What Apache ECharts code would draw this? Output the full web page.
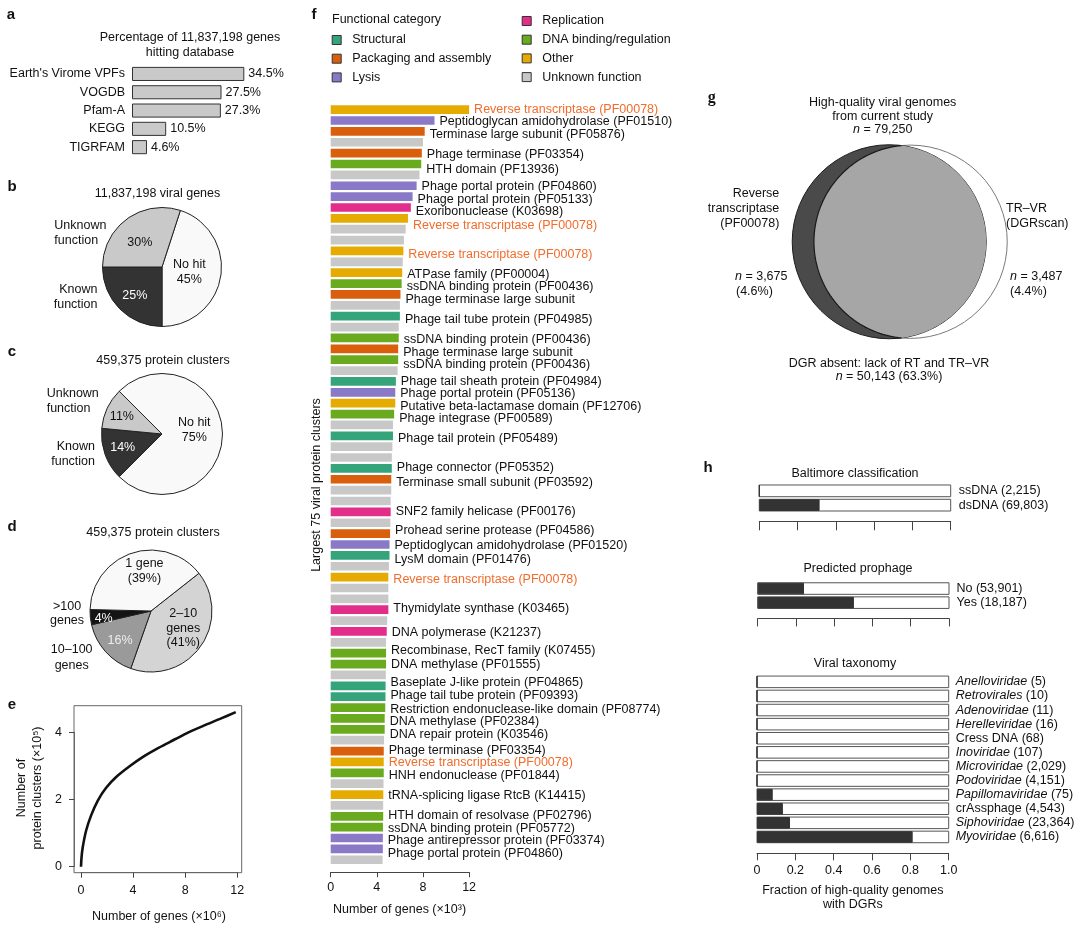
<!DOCTYPE html>
<html><head><meta charset="utf-8">
<script src="https://cdn.jsdelivr.net/npm/echarts@6/dist/echarts.min.js"></script>
<style>html,body{margin:0;padding:0;background:#fff}#c{width:1080px;height:929px}</style>
</head><body><div id="c"></div>
<script>
// ================= DATA =================
// panel a
const dbNames = ["Earth's Virome VPFs", "VOGDB", "Pfam-A", "KEGG", "TIGRFAM"];
const dbPercent = [34.5, 27.5, 27.3, 10.5, 4.6];
// panel b
const genePieNames = ['No hit', 'Known function', 'Unknown function'];
const genePieValues = [45, 25, 30];
// panel c
const clusterPieNames = ['No hit', 'Known function', 'Unknown function'];
const clusterPieValues = [75, 14, 11];
// panel d
const sizePieNames = ['2–10 genes', '10–100 genes', '>100 genes', '1 gene'];
const sizePieValues = [41, 16, 4, 39];
// panel e (rarefaction curve)
const rarefGenes = [0, 0.04, 0.13, 0.39, 0.77, 1.29, 1.93, 2.70, 3.73, 4.76, 5.78, 6.81, 8.10, 9.38, 10.67, 11.88];
const rarefClusters = [0, 0.27, 0.57, 1.07, 1.52, 1.97, 2.35, 2.67, 2.99, 3.27, 3.50, 3.71, 3.97, 4.19, 4.40, 4.60];
// panel f
const funcCategories = ['Structural', 'Packaging and assembly', 'Lysis', 'Replication', 'DNA binding/regulation', 'Other', 'Unknown function'];
const funcCodes = ['S', 'P', 'L', 'R', 'D', 'O', 'U'];
const fCats = ['O','L','P','U','P','D','U','L','L','R',
               'O','U','U','O','U','O','D','P','U','S',
               'U','D','P','D','U','S','L','O','D','U',
               'S','U','U','S','P','U','U','R','U','P',
               'L','S','U','O','U','U','R','U','R','U',
               'D','D','U','S','S','D','D','D','U','P',
               'O','D','U','O','U','D','D','L','L','U'];
const fValues = [12.1, 9.0, 8.15, 8.0, 7.9, 7.85, 7.7, 7.45, 7.1, 6.95,
                 6.7, 6.5, 6.35, 6.3, 6.25, 6.2, 6.15, 6.05, 6.0, 6.0,
                 5.9, 5.9, 5.85, 5.85, 5.8, 5.65, 5.6, 5.6, 5.5, 5.4,
                 5.4, 5.35, 5.3, 5.3, 5.25, 5.25, 5.2, 5.2, 5.18, 5.15,
                 5.1, 5.1, 5.05, 5.0, 5.0, 5.0, 5.0, 4.9, 4.86, 4.8,
                 4.8, 4.8, 4.78, 4.76, 4.75, 4.73, 4.68, 4.68, 4.63, 4.6,
                 4.6, 4.6, 4.58, 4.56, 4.55, 4.55, 4.53, 4.52, 4.52, 4.5];
const fLabels = ['Reverse transcriptase (PF00078)', 'Peptidoglycan amidohydrolase (PF01510)', 'Terminase large subunit (PF05876)', '', 'Phage terminase (PF03354)', 'HTH domain (PF13936)', '', 'Phage portal protein (PF04860)', 'Phage portal protein (PF05133)', 'Exoribonuclease (K03698)',
  'Reverse transcriptase (PF00078)', '', '', 'Reverse transcriptase (PF00078)', '', 'ATPase family (PF00004)', 'ssDNA binding protein (PF00436)', 'Phage terminase large subunit', '', 'Phage tail tube protein (PF04985)',
  '', 'ssDNA binding protein (PF00436)', 'Phage terminase large subunit', 'ssDNA binding protein (PF00436)', '', 'Phage tail sheath protein (PF04984)', 'Phage portal protein (PF05136)', 'Putative beta-lactamase domain (PF12706)', 'Phage integrase (PF00589)', '',
  'Phage tail protein (PF05489)', '', '', 'Phage connector (PF05352)', 'Terminase small subunit (PF03592)', '', '', 'SNF2 family helicase (PF00176)', '', 'Prohead serine protease (PF04586)',
  'Peptidoglycan amidohydrolase (PF01520)', 'LysM domain (PF01476)', '', 'Reverse transcriptase (PF00078)', '', '', 'Thymidylate synthase (K03465)', '', 'DNA polymerase (K21237)', '',
  'Recombinase, RecT family (K07455)', 'DNA methylase (PF01555)', '', 'Baseplate J-like protein (PF04865)', 'Phage tail tube protein (PF09393)', 'Restriction endonuclease-like domain (PF08774)', 'DNA methylase (PF02384)', 'DNA repair protein (K03546)', '', 'Phage terminase (PF03354)',
  'Reverse transcriptase (PF00078)', 'HNH endonuclease (PF01844)', '', 'tRNA-splicing ligase RtcB (K14415)', '', 'HTH domain of resolvase (PF02796)', 'ssDNA binding protein (PF05772)', 'Phage antirepressor protein (PF03374)', 'Phage portal protein (PF04860)', ''];
// panel g (Venn counts)
const vennLabels = ['RT only', 'DGR present', 'TR–VR only', 'DGR absent'];
const vennCounts = [3675, 21945, 3487, 50143];
// panel h
const baltNames = ['ssDNA (2,215)', 'dsDNA (69,803)'];
const baltFrac = [0, 0.315];
const prophNames = ['No (53,901)', 'Yes (18,187)'];
const prophFrac = [0.242, 0.503];
const taxNames = ['Anelloviridae', 'Retrovirales', 'Adenoviridae', 'Herelleviridae', 'Cress DNA', 'Inoviridae', 'Microviridae', 'Podoviridae', 'Papillomaviridae', 'crAssphage', 'Siphoviridae', 'Myoviridae'];
const taxCounts = ['5', '10', '11', '16', '68', '107', '2,029', '4,151', '75', '4,543', '23,364', '6,616'];
const taxItalic = [1, 1, 1, 1, 0, 1, 1, 1, 1, 0, 1, 1];
const taxFrac = [0, 0, 0, 0, 0, 0, 0, 0, 0.082, 0.135, 0.172, 0.812];

// ================= STYLE / BUILD =================
const FONT = '"Liberation Sans", Arial, Helvetica, sans-serif';
const TXT = '#111';
const FS = 12.5;
const funcColors = ['#36a47b', '#d95f0d', '#8a79c6', '#e22d8b', '#6aaa1e', '#e6ab03', '#c8c8c8'];
// vertical nudges of panel-f labels (layout only, by bar number)
const fLabelShift = {1:0, 2:1, 3:3.5, 5:1, 6:6, 8:1, 9:2.7, 10:4.5, 11:7, 14:3.3, 16:2.3, 17:3, 18:5, 20:3.8,
  22:1.4, 23:3.5, 24:5.3, 26:0, 27:1, 28:3.5, 29:5, 31:3.2, 34:-1, 35:3.4, 38:0, 40:-2.7, 41:1, 42:4.5, 44:2.8, 47:-1,
  49:0.7, 51:-2.3, 52:0.8, 54:-3.3, 55:-1, 56:1.5, 57:3, 58:5.5, 60:-0.6, 61:1.1, 62:3, 64:1, 66:-0.5, 67:1.6, 68:2.7, 69:5};

function txt(x, y, text, o) {
  o = o || {};
  const st = {
    text: text, fill: o.color || TXT,
    fontSize: o.size || FS, fontFamily: o.family || FONT,
    fontWeight: o.weight || 'normal', fontStyle: o.style || 'normal',
    align: o.align || 'center', verticalAlign: 'middle',
    textAlign: o.align || 'center', textVerticalAlign: 'middle',
    lineHeight: o.lineHeight || 15
  };
  if (o.rich) st.rich = o.rich;
  return { type: 'text', x: x, y: y, rotation: o.rotation || 0, silent: true, style: st };
}
const ITAL = { i: { fontStyle: 'italic', fontSize: FS, fontFamily: FONT, fill: TXT } };
const bold = { weight: 'bold', size: 15 };

const grids = [
  { left: 132, top: 64.8, width: 130.2, height: 91.5 },                        // 0 a
  { left: 74, top: 705.7, width: 167.7, height: 167, show: true, borderColor: '#666', borderWidth: 1, backgroundColor: 'rgba(0,0,0,0)' }, // 1 e box
  { left: 81, top: 732.3, width: 156.3, height: 134.4 },                       // 2 e plot
  { left: 330.7, top: 104.2, width: 138.4, height: 761 },                      // 3 f
  { left: 759.3, top: 483.7, width: 191.4, height: 28.6 },                     // 4 h balt
  { left: 757.7, top: 581.5, width: 191.3, height: 28.2 },                     // 5 h prophage
  { left: 757, top: 674.8, width: 191.7, height: 169.2 },                      // 6 h taxonomy
  { left: 771, top: 123.6, width: 257.8, height: 236.3 }                       // 7 g venn
];

const axLine = { show: true, onZero: false, lineStyle: { color: '#444', width: 1 } };
const eLine = { show: true, onZero: false, lineStyle: { color: '#666', width: 1 } };
const axLab = { fontSize: FS, color: TXT, fontFamily: FONT };

const xAxes = [
  { gridIndex: 0, type: 'value', min: 0, max: 40, show: false },
  { gridIndex: 1, type: 'value', show: false },
  { gridIndex: 2, type: 'value', min: 0, max: 12, interval: 4, offset: 6, axisLine: eLine,
    axisTick: { show: true, length: 5, lineStyle: { color: '#444' } }, axisLabel: Object.assign({ margin: 11 }, axLab), splitLine: { show: false } },
  { gridIndex: 3, type: 'value', min: 0, max: 12, interval: 4, offset: 7, axisLine: axLine,
    axisTick: { show: true, length: 5, lineStyle: { color: '#444' } }, axisLabel: Object.assign({ margin: 9 }, axLab), splitLine: { show: false } },
  { gridIndex: 4, type: 'value', min: 0, max: 1, interval: 0.2, offset: 9, axisLine: axLine,
    axisTick: { show: true, length: 9, lineStyle: { color: '#444' } }, axisLabel: { show: false }, splitLine: { show: false } },
  { gridIndex: 5, type: 'value', min: 0, max: 1, interval: 0.2, offset: 8.7, axisLine: axLine,
    axisTick: { show: true, length: 8, lineStyle: { color: '#444' } }, axisLabel: { show: false }, splitLine: { show: false } },
  { gridIndex: 6, type: 'value', min: 0, max: 1, interval: 0.2, offset: 9.3, axisLine: axLine,
    axisTick: { show: true, length: 7, lineStyle: { color: '#444' } },
    axisLabel: Object.assign({ margin: 11, formatter: v => v === 0 ? '0' : v.toFixed(1) }, axLab), splitLine: { show: false } },
  { gridIndex: 7, type: 'value', min: -120, max: 120, show: false }
];
const hideCat = { axisLine: { show: false }, axisTick: { show: false } };
const yAxes = [
  Object.assign({ gridIndex: 0, type: 'category', data: dbNames, inverse: true, axisLabel: Object.assign({ margin: 7, interval: 0 }, axLab) }, hideCat),
  { gridIndex: 1, type: 'value', show: false },
  { gridIndex: 2, type: 'value', min: 0, max: 4, interval: 2, offset: 7, axisLine: eLine,
    axisTick: { show: true, length: 5, lineStyle: { color: '#444' } }, axisLabel: Object.assign({ margin: 12 }, axLab), splitLine: { show: false } },
  Object.assign({ gridIndex: 3, type: 'category', data: fValues.map((v, i) => String(i + 1)), inverse: true, axisLabel: { show: false } }, hideCat),
  Object.assign({ gridIndex: 4, type: 'category', data: baltNames, inverse: true, position: 'right', axisLabel: Object.assign({ margin: 8, interval: 0 }, axLab) }, hideCat),
  Object.assign({ gridIndex: 5, type: 'category', data: prophNames, inverse: true, position: 'right', axisLabel: Object.assign({ margin: 7.5, interval: 0 }, axLab) }, hideCat),
  Object.assign({ gridIndex: 6, type: 'category', data: taxNames, inverse: true, position: 'right',
    axisLabel: Object.assign({ margin: 7, interval: 0, rich: ITAL,
      formatter: (val, idx) => taxItalic[idx] ? '{i|' + taxNames[idx] + '} (' + taxCounts[idx] + ')' : taxNames[idx] + ' (' + taxCounts[idx] + ')' }, axLab) }, hideCat),
  { gridIndex: 7, type: 'value', min: -110, max: 110, show: false }
];

const series = [];
// a
series.push({ type: 'bar', xAxisIndex: 0, yAxisIndex: 0, data: dbPercent, barCategoryGap: '23%', silent: true,
  itemStyle: { color: '#c9c9c9', borderColor: '#333', borderWidth: 1 },
  label: { show: true, position: 'right', distance: 4, formatter: p => p.value + '%', fontSize: FS, color: TXT, fontFamily: FONT } });

// pies
function pie(names, values, colors, center, radius, startAngle, fmt, lblColors, offsets) {
  return { type: 'pie', center: center, radius: radius, startAngle: startAngle, clockwise: true, silent: true,
    avoidLabelOverlap: false, labelLine: { show: false },
    itemStyle: { borderColor: '#222', borderWidth: 1 },
    label: { show: true, position: 'inside', fontSize: FS, lineHeight: 14.5, fontFamily: FONT, formatter: fmt },
    data: names.map((n, i) => ({ name: n, value: values[i], itemStyle: { color: colors[i] },
      label: { color: lblColors[i], offset: offsets[i] } })) };
}
const fmtBC = p => p.name === 'No hit' ? 'No hit\n' + p.value + '%' : p.value + '%';
series.push(pie(genePieNames, genePieValues, ['#f9f9f9', '#333333', '#c9c9c9'], [162, 267], 59.5, 72, fmtBC,
  [TXT, '#fff', TXT], [[-5, 0], [-4, 5], [-3, 2]]));
series.push(pie(clusterPieNames, clusterPieValues, ['#f9f9f9', '#333333', '#c9c9c9'], [162, 434], 60.5, 135, fmtBC,
  [TXT, '#fff', TXT], [[-1, -4], [-8, 2], [-10, -3]]));
const fmtD = p => {
  if (p.name === '1 gene') return '1 gene\n(' + p.value + '%)';
  if (p.name === '2–10 genes') return '2–10\ngenes\n(' + p.value + '%)';
  return p.value + '%';
};
series.push(pie(sizePieNames, sizePieValues, ['#d4d4d4', '#9a9a9a', '#141414', '#f9f9f9'], [151, 611], 61, 38.2, fmtD,
  [TXT, '#eee', '#fff', TXT], [[5, -2], [-6, 7], [-14, 4], [4, -8]]));

// e
series.push({ type: 'line', xAxisIndex: 2, yAxisIndex: 2, data: rarefGenes.map((x, i) => [x, rarefClusters[i]]),
  smooth: 0.3, showSymbol: false, clip: false, silent: true,
  lineStyle: { color: '#111', width: 2.6 } });

// f
funcCategories.forEach((name, ci) => {
  series.push({ type: 'bar', name: name, stack: 'f', xAxisIndex: 3, yAxisIndex: 3, barCategoryGap: '20%', silent: true,
    itemStyle: { color: funcColors[ci] },
    label: { show: false, position: 'right', distance: 5, fontSize: FS, fontFamily: FONT, color: TXT },
    data: fValues.map((v, i) => fCats[i] === funcCodes[ci]
      ? { value: v, label: { show: fLabels[i] !== '', formatter: fLabels[i], offset: [0, fLabelShift[i + 1] || 0],
          color: fLabels[i].indexOf('Reverse transcriptase') === 0 ? '#f26c2c' : TXT } }
      : '-') });
});

// h
function hBar(ax, vals) {
  return { type: 'bar', xAxisIndex: ax, yAxisIndex: ax, data: vals, barCategoryGap: '18%', silent: true,
    showBackground: true, backgroundStyle: { color: '#fff', borderColor: '#555', borderWidth: 1 },
    itemStyle: { color: '#333', borderColor: '#333', borderWidth: 1 } };
}
series.push(hBar(4, baltFrac));
series.push(hBar(5, prophFrac));
series.push(hBar(6, taxFrac));

// g venn (area proportional, geometry from counts)
const areaA = vennCounts[0] + vennCounts[1];
const areaB = vennCounts[1] + vennCounts[2];
const rA = Math.sqrt(areaA / Math.PI), rB = Math.sqrt(areaB / Math.PI);
function lensArea(r1, r2, d) {
  const a1 = Math.acos((d * d + r1 * r1 - r2 * r2) / (2 * d * r1));
  const a2 = Math.acos((d * d + r2 * r2 - r1 * r1) / (2 * d * r2));
  const k = Math.sqrt(Math.max(0, (-d + r1 + r2) * (d + r1 - r2) * (d - r1 + r2) * (d + r1 + r2)));
  return r1 * r1 * a1 + r2 * r2 * a2 - 0.5 * k;
}
let lo = Math.abs(rA - rB) + 1e-6, hi = rA + rB - 1e-6;
for (let k = 0; k < 80; k++) { const mid = (lo + hi) / 2; if (lensArea(rA, rB, mid) > vennCounts[1]) lo = mid; else hi = mid; }
const vd = (lo + hi) / 2;
series.push({ type: 'custom', xAxisIndex: 7, yAxisIndex: 7, silent: true, data: [[0, 0]],
  renderItem: function (params, api) {
    const xa = -vd / 2, xb = vd / 2;
    const cA = api.coord([xa, 0]), cB = api.coord([xb, 0]);
    const pA = api.size([rA, 0])[0], pB = api.size([rB, 0])[0];
    const x0 = (vd * vd + rA * rA - rB * rB) / (2 * vd);
    const h = Math.sqrt(rA * rA - x0 * x0);
    const phiA = Math.atan2(h, x0);
    const phiB = Math.atan2(h, x0 - vd);
    const lens = [], arcB = [];
    const N = 90;
    for (let i = 0; i <= N; i++) {
      const t = phiB + (2 * Math.PI - 2 * phiB) * i / N;
      const p = api.coord([xb + rB * Math.cos(t), rB * Math.sin(t)]);
      lens.push(p); arcB.push(p);
    }
    for (let i = 0; i <= N; i++) {
      const t = -phiA + 2 * phiA * i / N;
      lens.push(api.coord([xa + rA * Math.cos(t), rA * Math.sin(t)]));
    }
    return { type: 'group', children: [
      { type: 'circle', shape: { cx: cB[0], cy: cB[1], r: pB }, style: { fill: '#fff', stroke: '#7a7a7a', lineWidth: 1 } },
      { type: 'circle', shape: { cx: cA[0], cy: cA[1], r: pA }, style: { fill: '#4a4a4a', stroke: '#1e1e1e', lineWidth: 1 } },
      { type: 'polygon', shape: { points: lens }, style: { fill: '#a6a6a6', stroke: null } },
      { type: 'polyline', shape: { points: arcB }, style: { fill: null, stroke: '#1a1a1a', lineWidth: 1.2 } }
    ] };
  } });

const legendBase = { orient: 'vertical', icon: 'rect', itemWidth: 9, itemHeight: 9, itemGap: 3.7, padding: 0, selectedMode: false,
  itemStyle: { borderColor: '#333', borderWidth: 1 },
  textStyle: { fontSize: FS, color: TXT, fontFamily: FONT, lineHeight: 15, padding: [0, 0, 0, 6] } };

const graphics = [
  txt(11, 15, 'a', bold),
  txt(190, 38, 'Percentage of 11,837,198 genes'),
  txt(190, 53, 'hitting database'),
  txt(12, 187, 'b', bold),
  txt(157.5, 193.3, '11,837,198 viral genes'),
  txt(54.3, 225.7, 'Unknown', { align: 'left' }), txt(54.3, 240.3, 'function', { align: 'left' }),
  txt(97.5, 290, 'Known', { align: 'right' }), txt(97.5, 305, 'function', { align: 'right' }),
  txt(12, 352, 'c', bold),
  txt(163, 361, '459,375 protein clusters'),
  txt(46.7, 393.3, 'Unknown', { align: 'left' }), txt(46.7, 408.3, 'function', { align: 'left' }),
  txt(95, 446.7, 'Known', { align: 'right' }), txt(95, 461.7, 'function', { align: 'right' }),
  txt(12, 527, 'd', bold),
  txt(153, 532.3, '459,375 protein clusters'),
  txt(67, 606.7, '>100'), txt(67, 620.7, 'genes'),
  txt(71.7, 650, '10–100'), txt(71.7, 665.7, 'genes'),
  txt(12, 705, 'e', bold),
  txt(29.5, 788, 'Number of\nprotein clusters (×10⁵)', { rotation: Math.PI / 2, lineHeight: 15.6 }),
  txt(159, 916.7, 'Number of genes (×10⁶)'),
  txt(314, 15, 'f', bold),
  txt(332, 20, 'Functional category', { align: 'left' }),
  txt(317, 485, 'Largest 75 viral protein clusters', { rotation: Math.PI / 2 }),
  txt(333, 910, 'Number of genes (×10³)', { align: 'left' }),
  txt(711.7, 98, 'g', { weight: 'bold', size: 16, family: '"Liberation Serif", "Times New Roman", serif' }),
  txt(882.7, 102.7, 'High-quality viral genomes'),
  txt(882.7, 116.3, 'from current study'),
  txt(882.7, 130, '{i|n} = 79,250', { rich: ITAL }),
  txt(901, 187.5, 'DGR'),
  txt(901, 202.7, 'present'),
  txt(779.3, 193.3, 'Reverse', { align: 'right' }),
  txt(779.3, 208.3, 'transcriptase', { align: 'right' }),
  txt(779.3, 223.3, '(PF00078)', { align: 'right' }),
  txt(1006, 208.3, 'TR–VR', { align: 'left' }),
  txt(1006, 223.3, '(DGRscan)', { align: 'left' }),
  txt(735, 276.7, '{i|n} = 3,675', { align: 'left', rich: ITAL }),
  txt(736, 291.7, '(4.6%)', { align: 'left' }),
  txt(901, 277.3, '{i|n} = 21,945', { rich: ITAL }),
  txt(901, 292.7, '(27.7%)'),
  txt(1010, 276.7, '{i|n} = 3,487', { align: 'left', rich: ITAL }),
  txt(1010, 291.7, '(4.4%)', { align: 'left' }),
  txt(889, 363.3, 'DGR absent: lack of RT and TR–VR'),
  txt(889, 376.7, '{i|n} = 50,143 (63.3%)', { rich: ITAL }),
  txt(708, 468, 'h', bold),
  txt(855, 474, 'Baltimore classification'),
  txt(858, 568.3, 'Predicted prophage'),
  txt(855, 663.3, 'Viral taxonomy'),
  txt(852.8, 890.7, 'Fraction of high-quality genomes'),
  txt(852.8, 905, 'with DGRs')
];

const option = {
  backgroundColor: '#fff',
  animation: false,
  textStyle: { fontFamily: FONT },
  grid: grids,
  xAxis: xAxes,
  yAxis: yAxes,
  legend: [
    Object.assign({ left: 331.7, top: 32.5, data: funcCategories.slice(0, 3) }, legendBase),
    Object.assign({ left: 521.7, top: 13.5, data: funcCategories.slice(3) }, legendBase)
  ],
  series: series,
  graphic: { elements: graphics }
};
const chart = echarts.init(document.getElementById('c'), null, { renderer: 'canvas' });
chart.setOption(option);
</script>
</body></html>
